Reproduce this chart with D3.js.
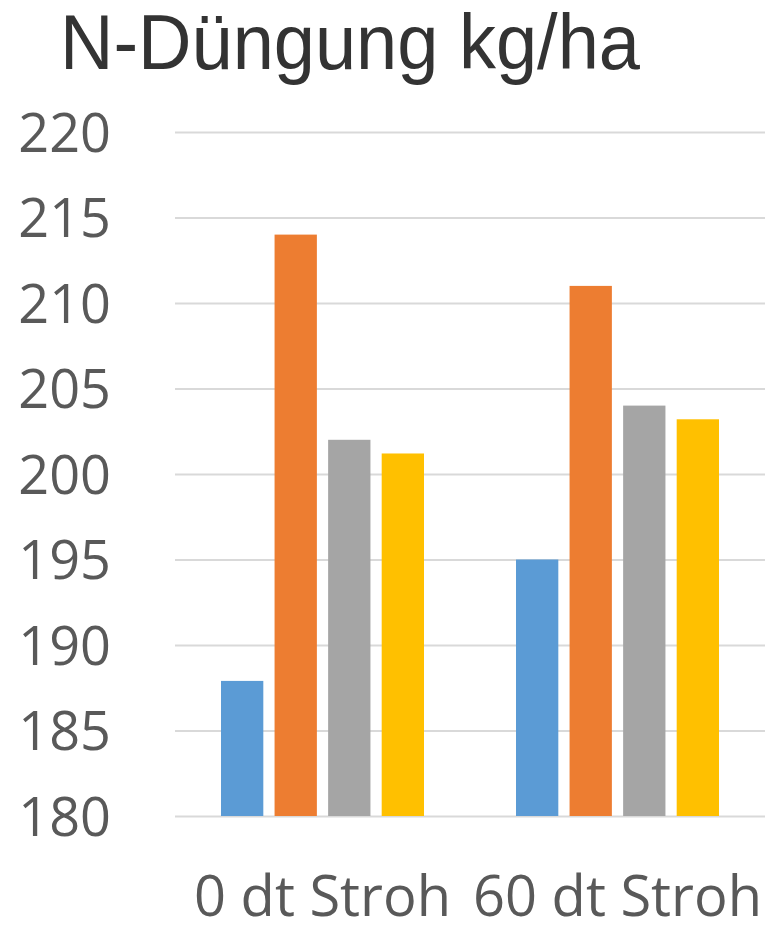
<!DOCTYPE html>
<html>
<head>
<meta charset="utf-8">
<script src="https://cdn.jsdelivr.net/npm/d3@7"></script>
<style>
  html, body { margin: 0; padding: 0; background: #fff; }
  svg { display: block; }
</style>
</head>
<body>
<svg id="chart" width="769" height="927"></svg>
<script>
// Categories, series and values
const categories = ["0 dt Stroh", "60 dt Stroh"];
const series = ["Variante 1", "Variante 2", "Variante 3", "Variante 4"];
const seriesColors = ["#5B9BD5", "#ED7D31", "#A5A5A5", "#FFC000"];
const values = [
  [187.9, 214.0, 202.0, 201.2],   // 0 dt Stroh
  [195.0, 211.0, 204.0, 203.2]    // 60 dt Stroh
];
const yTicks = [180, 185, 190, 195, 200, 205, 210, 215, 220];
const title = "N-Düngung kg/ha";

const svg = d3.select("#chart");

const plot = { left: 175, right: 765, top: 132, bottom: 816 };

const y = d3.scaleLinear().domain([180, 220]).range([plot.bottom, plot.top]);
const x0 = d3.scaleBand().domain(categories).range([plot.left, plot.right]).padding(0);
const groupWidth = 203;
const x1 = d3.scaleBand().domain(series)
  .range([(x0.bandwidth() - groupWidth) / 2, (x0.bandwidth() + groupWidth) / 2])
  .paddingInner(0.21).paddingOuter(0);
const color = d3.scaleOrdinal().domain(series).range(seriesColors);

// Gridlines + value labels
const yAxis = d3.axisLeft(y).tickValues(yTicks).tickSize(-(plot.right - plot.left)).tickPadding(64);
const gy = svg.append("g").attr("transform", `translate(${plot.left},0)`).call(yAxis);
gy.select(".domain").remove();
gy.selectAll(".tick line").attr("stroke", "#d9d9d9").attr("stroke-width", 2);
gy.selectAll(".tick text")
  .attr("fill", "#595959")
  .attr("font-family", "'Open Sans', sans-serif")
  .attr("font-size", 54)
  .attr("dy", "0.36em");

// Bars
const groups = svg.append("g").selectAll("g")
  .data(categories)
  .join("g")
  .attr("transform", d => `translate(${x0(d)},0)`);

groups.selectAll("rect")
  .data((d, i) => series.map((s, j) => ({ s, v: values[i][j] })))
  .join("rect")
  .attr("x", d => x1(d.s))
  .attr("width", x1.bandwidth())
  .attr("y", d => y(d.v))
  .attr("height", d => y(180) - y(d.v))
  .attr("fill", d => color(d.s));

// Category axis
const xAxis = d3.axisBottom(x0).tickSize(0).tickPadding(60);
const gx = svg.append("g").attr("transform", `translate(0,${plot.bottom})`).call(xAxis);
gx.select(".domain").remove();
gx.selectAll(".tick text")
  .attr("fill", "#595959")
  .attr("font-family", "'Open Sans', sans-serif")
  .attr("font-size", 56);

// Title
svg.append("text")
  .attr("transform", "translate(60,69) scale(1,1.04)")
  .attr("fill", "#333333")
  .attr("font-family", "'Liberation Sans', Arial, sans-serif")
  .attr("font-size", 74)
  .text(title);
</script>
</body>
</html>
